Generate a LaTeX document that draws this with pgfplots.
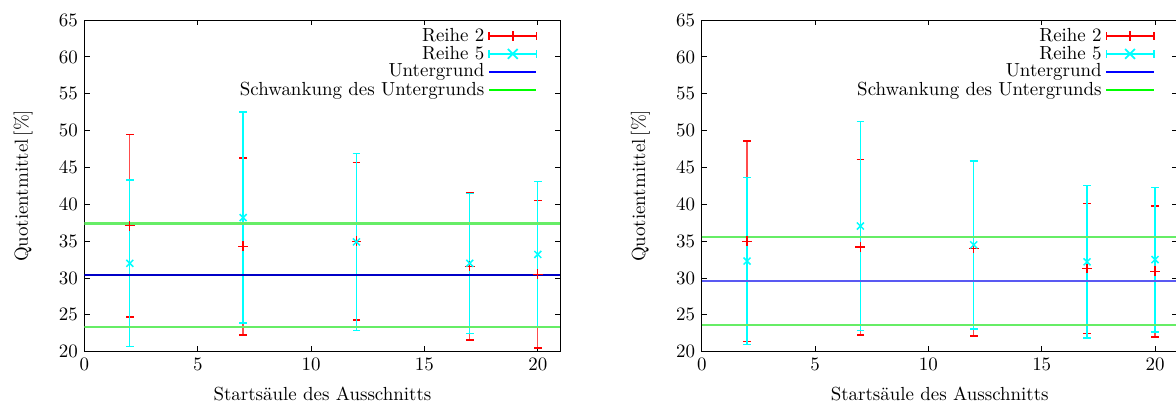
\documentclass[border=0pt]{standalone}
\usepackage{pgfplots}
\pgfplotsset{compat=1.18}
\definecolor{gpgreen}{rgb}{0.4,0.93,0.4}
\definecolor{gpcyan}{rgb}{0,1,1}
\definecolor{gpdblue}{rgb}{0,0,0.78}
\definecolor{gplblue}{rgb}{0.35,0.35,0.95}
\pgfplotsset{
  gp/.style={
    width=251.3pt, height=175.1pt, scale only axis,
    xmin=0, xmax=21, ymin=20, ymax=65,
    xtick={0,5,10,15,20}, ytick={20,25,...,65},
    major tick length=2.8pt,
    tick style={black, line width=0.5pt},
    axis line style={line width=0.6pt},
    xlabel={Startsäule des Ausschnitts},
    ylabel={Quotientmittel\,[\%]},
    xlabel shift=2pt,
    ylabel shift=7pt,
    legend style={draw=none, fill=none, at={(1,1)}, anchor=north east,
      xshift=-9pt, yshift=-0.5pt, row sep=-2pt,
      nodes={inner ysep=1.5pt}},
    legend cell align=right,
    legend plot pos=right,
  },
  e2/.style={red, mark=+, only marks, mark size=2.6pt, line width=0.7pt,
    error bars/.cd, y dir=both, y explicit,
    error bar style={red!70, line width=0.7pt},
    error mark options={red, rotate=90, mark size=2pt, line width=0.8pt},
    /pgfplots/.cd},
  e5/.style={gpcyan, mark=x, only marks, mark size=2.6pt, line width=0.8pt,
    error bars/.cd, y dir=both, y explicit,
    error bar style={gpcyan, line width=0.7pt},
    error mark options={gpcyan, rotate=90, mark size=2pt, line width=0.8pt},
    /pgfplots/.cd},
  l2/.style={legend image code/.code={
    \draw[red, line width=0.9pt] (0cm,0cm) -- (0.88cm,0cm);
    \draw[red, line width=0.8pt] (0cm,-2pt) -- (0cm,2pt);
    \draw[red, line width=0.8pt] (0.88cm,-2pt) -- (0.88cm,2pt);
    \draw[red, line width=0.9pt] (0.44cm,-2.6pt) -- (0.44cm,2.6pt);}},
  l5/.style={legend image code/.code={
    \draw[gpcyan, line width=0.9pt] (0cm,0cm) -- (0.88cm,0cm);
    \draw[gpcyan, line width=0.8pt] (0cm,-2pt) -- (0cm,2pt);
    \draw[gpcyan, line width=0.8pt] (0.88cm,-2pt) -- (0.88cm,2pt);
    \draw[gpcyan, line width=0.9pt] (0.44cm,0cm) ++(-2.6pt,-2.6pt) -- ++(5.2pt,5.2pt);
    \draw[gpcyan, line width=0.9pt] (0.44cm,0cm) ++(-2.6pt,2.6pt) -- ++(5.2pt,-5.2pt);}},
  lb/.style={legend image code/.code={
    \draw[blue, line width=0.9pt] (0cm,0cm) -- (0.88cm,0cm);}},
  lg/.style={legend image code/.code={
    \draw[green, line width=0.9pt] (0cm,0cm) -- (0.88cm,0cm);}},
}
\begin{document}
\begin{tikzpicture}
\begin{axis}[gp, at={(0pt,0pt)}]
\addplot[l2, e2] coordinates {
  (2,37.1) +- (0,12.4)
  (7,34.3) +- (0,12.0)
  (12,35.0) +- (0,10.7)
  (17,31.6) +- (0,10.0)
  (20,30.5) +- (0,10.0)
};
\addlegendentry{Reihe 2}
\addplot[l5, e5] coordinates {
  (2,32.0) +- (0,11.3)
  (7,38.2) +- (0,14.3)
  (12,34.9) +- (0,12.0)
  (17,32.0) +- (0,9.5)
  (20,33.2) +- (0,9.9)
};
\addlegendentry{Reihe 5}
\addplot[gpdblue, line width=0.75pt, lb] coordinates {(0,30.4) (21,30.4)};
\addlegendentry{Untergrund}
\addplot[gpgreen, line width=1.15pt, lg] coordinates {(0,37.4) (21,37.4)};
\addlegendentry{Schwankung des Untergrunds}
\addplot[gpgreen, line width=1.15pt, forget plot] coordinates {(0,23.4) (21,23.4)};
\end{axis}
\begin{axis}[gp, at={(325.9pt,0pt)}]
\addplot[l2, e2] coordinates {
  (2,35.0) +- (0,13.6)
  (7,34.2) +- (0,11.9)
  (12,34.0) +- (0,11.9)
  (17,31.3) +- (0,8.8)
  (20,30.9) +- (0,8.9)
};
\addlegendentry{Reihe 2}
\addplot[l5, e5] coordinates {
  (2,32.3) +- (0,11.35)
  (7,37.05) +- (0,14.2)
  (12,34.5) +- (0,11.4)
  (17,32.2) +- (0,10.35)
  (20,32.5) +- (0,9.8)
};
\addlegendentry{Reihe 5}
\addplot[gplblue, line width=1.1pt, lb] coordinates {(0,29.6) (21,29.6)};
\addlegendentry{Untergrund}
\addplot[gpgreen, line width=0.95pt, lg] coordinates {(0,35.6) (21,35.6)};
\addlegendentry{Schwankung des Untergrunds}
\addplot[gpgreen, line width=0.95pt, forget plot] coordinates {(0,23.6) (21,23.6)};
\end{axis}
\pgfresetboundingbox
\path[use as bounding box] (-44.6pt,-28.2pt) rectangle (576.3pt,185.7pt);
\end{tikzpicture}
\end{document}
